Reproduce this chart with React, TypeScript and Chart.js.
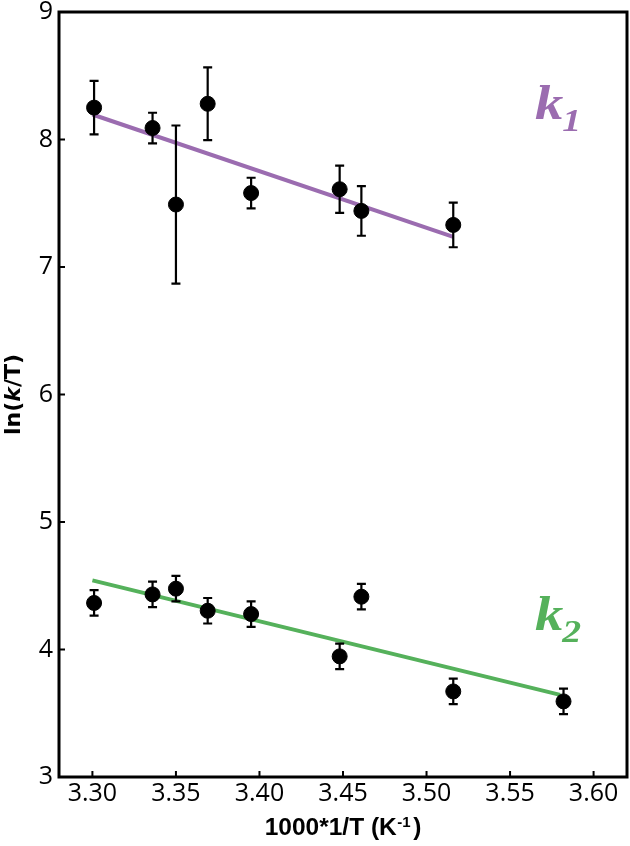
import React, { useEffect, useRef } from "react";
import { Chart, registerables } from "chart.js";

Chart.register(...registerables);

// ---- data ----
const invT1 = [3.301, 3.336, 3.35, 3.369, 3.395, 3.448, 3.461, 3.516];
const lnk1 = [8.25, 8.09, 7.49, 8.28, 7.58, 7.61, 7.44, 7.33];
const err1 = [0.21, 0.12, 0.62, 0.285, 0.12, 0.185, 0.195, 0.175];

const invT2 = [3.301, 3.336, 3.35, 3.369, 3.395, 3.448, 3.461, 3.516, 3.582];
const lnk2 = [4.365, 4.432, 4.477, 4.304, 4.278, 3.946, 4.414, 3.671, 3.593];
const err2 = [0.1, 0.1, 0.1, 0.1, 0.1, 0.1, 0.1, 0.1, 0.1];

const fit1X = [3.3, 3.516];
const fit1Y = [8.196, 7.237];
const fit2X = [3.3, 3.58];
const fit2Y = [4.542, 3.644];

const xTickValues = [3.3, 3.35, 3.4, 3.45, 3.5, 3.55, 3.6];
const yTickValues = [3, 4, 5, 6, 7, 8, 9];

const seriesLabels = ["1", "2"];
const labelAnchorX = [3.565, 3.565];
const labelAnchorY = [8.161, 4.153];

const PURPLE = "#9b6cb0";
const GREEN = "#55b15b";

const toPts = (xs: number[], ys: number[]) => xs.map((x, i) => ({ x, y: ys[i] }));

const zeroPad = () => ({ left: 0, top: 0, right: 0, bottom: 0 });

const decor = {
  id: "decor",
  afterDatasetDraw(chart: any, args: any) {
    if (args.index !== 2) return;
    const ctx = chart.ctx;
    const xs = chart.scales.x;
    const ys = chart.scales.y;
    ctx.save();
    ctx.strokeStyle = "#000";
    ctx.lineWidth = 2.2;
    const drawBars = (xv: number[], yv: number[], ev: number[]) => {
      xv.forEach((x, i) => {
        const px = xs.getPixelForValue(x);
        const t = ys.getPixelForValue(yv[i] + ev[i]);
        const b = ys.getPixelForValue(yv[i] - ev[i]);
        ctx.beginPath();
        ctx.moveTo(px, t);
        ctx.lineTo(px, b);
        ctx.moveTo(px - 4.5, t);
        ctx.lineTo(px + 4.5, t);
        ctx.moveTo(px - 4.5, b);
        ctx.lineTo(px + 4.5, b);
        ctx.stroke();
      });
    };
    drawBars(invT1, lnk1, err1);
    drawBars(invT2, lnk2, err2);
    ctx.restore();
  },
  afterDraw(chart: any) {
    const ctx = chart.ctx;
    const a = chart.chartArea;
    const xs = chart.scales.x;
    const ys = chart.scales.y;
    ctx.save();
    // inward ticks
    ctx.strokeStyle = "#000";
    ctx.lineWidth = 2;
    ctx.beginPath();
    xTickValues.forEach((v) => {
      const px = xs.getPixelForValue(v);
      ctx.moveTo(px, a.bottom);
      ctx.lineTo(px, a.bottom - 6);
    });
    yTickValues.forEach((v) => {
      const py = ys.getPixelForValue(v);
      ctx.moveTo(a.left, py);
      ctx.lineTo(a.left + 6, py);
    });
    ctx.stroke();
    // frame
    ctx.lineWidth = 3;
    ctx.strokeRect(a.left, a.top, a.right - a.left, a.bottom - a.top);

    // x title
    ctx.fillStyle = "#000";
    ctx.textBaseline = "alphabetic";
    ctx.textAlign = "left";
    const big = "bold 24.5px 'Liberation Sans'";
    const small = "bold 15px 'Liberation Sans'";
    const p1 = "1000*1/T (K";
    const p2 = "-1";
    const p3 = ")";
    ctx.font = big;
    const w1 = ctx.measureText(p1).width;
    const w3 = ctx.measureText(p3).width;
    ctx.font = small;
    const w2 = ctx.measureText(p2).width + 3;
    const cx = (a.left + a.right) / 2;
    const x0 = cx - (w1 + w2 + w3) / 2;
    const base = 835;
    ctx.font = big;
    ctx.fillText(p1, x0, base);
    ctx.font = small;
    ctx.fillText(p2, x0 + w1 + 0.5, base - 8);
    ctx.font = big;
    ctx.fillText(p3, x0 + w1 + w2, base);

    // y title
    ctx.save();
    ctx.translate(19.5, (a.top + a.bottom) / 2);
    ctx.rotate(-Math.PI / 2);
    const yParts = [
      { t: "ln(", f: "bold 22px 'DejaVu Sans'" },
      { t: "k", f: "italic bold 22px 'DejaVu Sans'" },
      { t: "/T)", f: "bold 22px 'DejaVu Sans'" },
    ];
    let tot = 0;
    const ws = yParts.map((p) => {
      ctx.font = p.f;
      const w = ctx.measureText(p.t).width;
      tot += w;
      return w;
    });
    let yx = -tot / 2;
    yParts.forEach((p, i) => {
      ctx.font = p.f;
      ctx.fillText(p.t, yx, 0);
      yx += ws[i];
    });
    ctx.restore();

    // k labels
    const colors = [PURPLE, GREEN];
    seriesLabels.forEach((s, i) => {
      const px = xs.getPixelForValue(labelAnchorX[i]);
      const py = ys.getPixelForValue(labelAnchorY[i]);
      ctx.fillStyle = colors[i];
      ctx.save();
      ctx.translate(px, py);
      ctx.scale(1.18, 1);
      ctx.font = "italic bold 48px 'Liberation Serif'";
      ctx.fillText("k", 0, 0);
      const kw = ctx.measureText("k").width;
      ctx.font = "italic bold 32px 'Liberation Serif'";
      ctx.fillText(s, kw - 1, 12);
      ctx.restore();
    });
    ctx.restore();
  },
};

export default function App() {
  const ref = useRef<HTMLCanvasElement | null>(null);
  useEffect(() => {
    if (!ref.current) return;
    const chart = new Chart(ref.current, {
      type: "scatter",
      data: {
        datasets: [
          {
            label: "k1 data",
            data: toPts(invT1, lnk1),
            backgroundColor: "#000",
            borderColor: "#000",
            pointRadius: 7.5,
            pointHoverRadius: 7.5,
          },
          {
            label: "k2 data",
            data: toPts(invT2, lnk2),
            backgroundColor: "#000",
            borderColor: "#000",
            pointRadius: 7.5,
            pointHoverRadius: 7.5,
          },
          {
            type: "line",
            label: "k1 fit",
            data: toPts(fit1X, fit1Y),
            borderColor: PURPLE,
            borderWidth: 4,
            pointRadius: 0,
            fill: false,
          },
          {
            type: "line",
            label: "k2 fit",
            data: toPts(fit2X, fit2Y),
            borderColor: GREEN,
            borderWidth: 4,
            pointRadius: 0,
            fill: false,
          },
        ] as any,
      },
      options: {
        animation: false,
        responsive: false,
        events: [],
        layout: { autoPadding: false, padding: { left: 0, top: 12, right: 3, bottom: 0 } },
        plugins: { legend: { display: false }, tooltip: { enabled: false } },
        scales: {
          x: {
            type: "linear",
            min: 3.28,
            max: 3.62,
            grid: { display: false, drawTicks: false },
            border: { display: false },
            afterBuildTicks: (s: any) => {
              s.ticks = xTickValues.map((v) => ({ value: v }));
            },
            afterFit: (s: any) => {
              s.height = 69;
              s.paddingLeft = 0;
              s.paddingRight = 0;
              s.getPadding = zeroPad;
            },
            ticks: {
              color: "#000",
              padding: 2,
              maxRotation: 0,
              autoSkip: false,
              font: { family: "'Open Sans'", size: 25 },
              callback: (v: any) => Number(v).toFixed(2),
            },
          },
          y: {
            type: "linear",
            min: 3,
            max: 9,
            grid: { display: false, drawTicks: false },
            border: { display: false },
            afterBuildTicks: (s: any) => {
              s.ticks = yTickValues.map((v) => ({ value: v }));
            },
            afterFit: (s: any) => {
              s.width = 59;
              s.paddingTop = 0;
              s.paddingBottom = 0;
              s.getPadding = zeroPad;
            },
            ticks: {
              color: "#000",
              padding: 6,
              autoSkip: false,
              font: { family: "'Open Sans'", size: 25 },
              callback: (v: any) => String(v),
            },
          },
        },
      },
      plugins: [decor],
    });
    return () => chart.destroy();
  }, []);
  return (
    <div style={{ position: "absolute", left: 0, top: 0, width: 630, height: 846, background: "#fff" }}>
      <canvas ref={ref} width={630} height={846} style={{ display: "block" }} />
    </div>
  );
}
